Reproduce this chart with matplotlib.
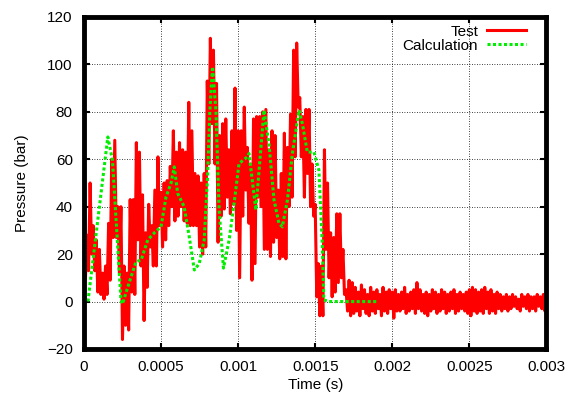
import numpy as np
import matplotlib
matplotlib.use('Agg')
import matplotlib.pyplot as plt

plt.rcParams['font.family'] = ['Liberation Sans', 'DejaVu Sans']

# Test signal: pairs of (high, low) samples every 0.00002 s
test_pairs = [
    (20, 10), (28, 13), (50, 20), (32, 13), (26, 4), (22, 3), (12, 1), (15, 3),
    (33, 9), (60, 27), (68, 27), (40, 12), (40, -16), (15, -10), (12, -12), (43, 4),
    (43, 3), (67, 26), (63, 15), (45, -8), (29, 6), (41, 23), (32, 15), (47, 15),
    (61, 32), (46, 23), (50, 26), (51, 32), (57, 40), (72, 34), (63, 36), (67, 40),
    (64, 34), (63, 33), (84, 32), (72, 32), (54, 32), (53, 23), (50, 20), (54, 23),
    (93, 58), (111, 75), (106, 58), (92, 25), (70, 36), (75, 39), (77, 44), (64, 37),
    (72, 41), (90, 30), (72, 10), (72, 36), (82, 47), (65, 33), (58, 9), (77, 16),
    (78, 44), (78, 40), (80, 22), (81, 22), (64, 19), (72, 25), (70, 27), (47, 18),
    (54, 19), (71, 18), (65, 40), (79, 44), (106, 61), (109, 82), (86, 61), (78, 44),
    (81, 54), (81, 40), (58, 36), (41, 2), (16, -6), (15, -6), (64, 22), (50, 10),
    (29, 2), (27, 4), (37, 8), (37, 10), (22, 3), (5, -4), (9, -6), (8, -5),
    (6, -4), (4, -6), (7, -3), (5, -5), (3, -6), (6, -4), (4, -5), (5, -3),
    (3, -6), (6, -4), (4, -5), (5, -3), (4, -7), (5, -4), (3, -4), (4, -3),
    (6, -5), (3, -4), (4, -3), (5, -5), (8, -3), (5, -4), (3, -5), (4, -6),
    (3, -4), (5, -3), (4, -5), (3, -4), (5, -3), (4, -5), (3, -4), (4, -3),
    (5, -5), (3, -4), (4, -3), (3, -4), (4, -5), (5, -6), (6, -4), (5, -5),
    (4, -4), (5, -5), (6, -3), (4, -5), (5, -4), (3, -5), (4, -3), (3, -4),
    (2, -3), (3, -4), (2, -3), (3, -2), (2, -3), (1, -4), (3, -2), (2, -3),
    (3, -4), (2, -3), (2, -4), (3, -2), (2, -3), (3, -4),
]
test_p = [v for pair in test_pairs for v in pair] + [1]
test_t = np.arange(len(test_p)) * 0.00001

# Calculation curve
calc_t = [0.000026, 0.000155, 0.000185, 0.00024, 0.00025, 0.000306, 0.000338,
          0.000371, 0.000414, 0.000457, 0.0005, 0.000532, 0.000565, 0.000586,
          0.000608, 0.00065, 0.000683, 0.000716, 0.000748, 0.00078, 0.000802,
          0.000817, 0.000834, 0.000856, 0.000877, 0.000905, 0.000942, 0.000974,
          0.001006, 0.00106, 0.001071, 0.001115, 0.001136, 0.001168, 0.0012,
          0.001233, 0.001265, 0.001287, 0.00132, 0.001352, 0.001395, 0.001417,
          0.001449, 0.001492, 0.001524, 0.001546, 0.001556, 0.00159, 0.0019]
calc_p = [0, 69.4, 59.6, 0.7, -1, 10.5, 16.8,
          17.5, 26, 29, 31.5, 44, 50, 56.8,
          45.6, 40, 27.3, 13.3, 16, 26, 52.6,
          80.7, 99, 80.7, 38.6, 14.1, 26, 41.4,
          58.2, 61, 62.4, 38.6, 55.4, 80.7, 66.6,
          42.8, 33, 31.5, 42.8, 62.4, 80.7, 75,
          63, 63, 55.4, 24.5, 0.7, 0, 0]

fig = plt.figure(figsize=(5.71, 4.03), dpi=100)
ax = fig.add_axes([0.147, 0.134, 0.81, 0.824])

ax.plot(test_t, test_p, color='#ff0000', lw=2.2, label='Test')
ax.plot(calc_t, calc_p, color='#00ee00', lw=2.2, ls=(0, (1, 0.8)), label='Calculation')

ax.set_xlim(0, 0.003)
ax.set_ylim(-20, 120)
ax.set_xticks([0, 0.0005, 0.001, 0.0015, 0.002, 0.0025, 0.003])
ax.set_xticklabels(['0', '0.0005', '0.001', '0.0015', '0.002', '0.0025', '0.003'])
ax.set_yticks(range(-20, 121, 20))
ax.set_yticklabels(['\u221220', '0', '20', '40', '60', '80', '100', '120'])

ax.grid(True, color='black', lw=0.6, ls=(0, (1, 2)))
ax.tick_params(direction='in', length=4, width=1.5, labelsize=11,
               top=True, right=True, pad=8)
for s in ax.spines.values():
    s.set_linewidth(3.5)

ax.set_xlabel('Time (s)', fontsize=11, labelpad=3)
ax.set_ylabel('Pressure (bar)', fontsize=11, labelpad=13)
ax.legend(loc='upper right', bbox_to_anchor=(0.968, 0.995), frameon=False,
          markerfirst=False, fontsize=11, handlelength=2.5, labelspacing=0.0,
          borderaxespad=0, handletextpad=0.6)

fig.savefig('out.png', dpi=100)
